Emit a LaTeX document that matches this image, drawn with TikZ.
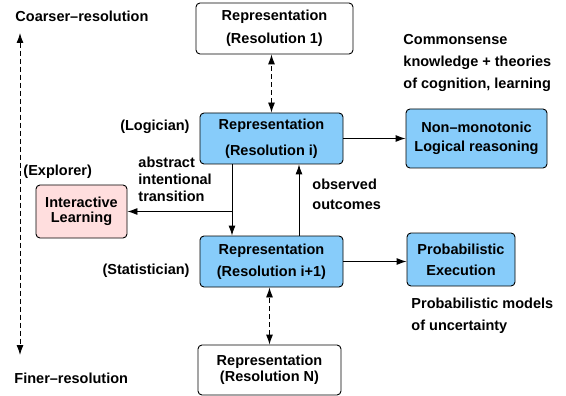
\documentclass[tikz,border=0pt]{standalone}
\usepackage{fontspec}
\setmainfont{Liberation Sans}
\usetikzlibrary{arrows.meta}
\definecolor{skyblue}{RGB}{135,204,250}
\definecolor{lightpink}{RGB}{255,222,222}
\begin{document}
\begin{tikzpicture}[x=1pt,y=-1pt,line width=0.9pt,
    font=\bfseries\fontsize{14.5}{17}\selectfont,
    >={Latex[length=10pt,width=7pt]},
    resbox/.style={rectangle,rounded corners=4pt,draw,align=center,minimum height=51pt,inner sep=0pt},
    activebox/.style={resbox,fill=skyblue},
    note/.style={align=left,inner sep=0pt},
    scaleline/.style={<->,dashed,dash pattern=on 5pt off 3pt}]
    \useasboundingbox (0,0) rectangle (566,396);

    \node[resbox,minimum width=157pt] (res_1) at (274.5,28.5) {Representation\\[6pt](Resolution 1)} ;
    \node[activebox,minimum width=143pt] (res_i) at (271.5,138.5) {Representation\\[9pt](Resolution i)} ;
    \node[activebox,minimum width=143pt] (res_ip) at (271.5,261.5) {Representation\\[5pt](Resolution i+1)} ;
    \node[resbox,minimum width=143pt,minimum height=50pt] (res_N) at (269.5,370) {Representation\\[-1pt](Resolution N)} ;
    \node[activebox,minimum width=141pt,minimum height=59pt] (nonmono) at (476.5,138.5) {Non\textendash monotonic\\[2pt]Logical reasoning} ;
    \node[activebox,minimum width=108pt,minimum height=53pt] (prob_exec) at (461,259.5) {Probabilistic\\[4pt]Execution} ;
    \node[resbox,fill=lightpink,minimum width=91pt,minimum height=53pt] (learn) at (81.5,211.5) {Interactive\\[-2pt]Learning} ;

    \node[note,anchor=west] (coarse_lbl) at (15,16) {Coarser\textendash resolution} ;
    \node[note,anchor=west] (fine_lbl) at (14,378) {Finer\textendash resolution} ;
    \node[note,anchor=east] (logician) at (190,127) {(Logician)} ;
    \node[note,anchor=east] (statistician) at (190,271) {(Statistician)} ;
    \node[note,anchor=west] (explorer) at (23,172) {(Explorer)} ;
    \node[note,anchor=north west] (abstract_lbl) at (138,157) {abstract\\intentional\\transition} ;
    \node[note,anchor=north west] (observed_lbl) at (312,179) {observed\\[3pt]outcomes} ;
    \node[note,anchor=north west] (commonsense) at (403,34) {Commonsense\\[5pt]knowledge + theories\\[5pt]of cognition, learning} ;
    \node[note,anchor=north west] (prob_models) at (411,298) {Probabilistic models\\[5pt]of uncertainty} ;

    % resolution scale on the left
    \coordinate (coarse_end) at (20,33) ;
    \coordinate (fine_end) at (20,355) ;
    \draw[scaleline] (coarse_end) -- (fine_end) ;

    \draw[scaleline] (res_i.north) -- (res_i.north |- res_1.south) ;
    \draw[scaleline] (res_N.north) -- (res_N.north |- res_ip.south) ;

    \draw[->] (res_i) -- (nonmono) ;
    \draw[->] (res_ip.east) -- (res_ip.east -| prob_exec.west) ;

    \coordinate (split) at (232,211.5) ;
    \coordinate (feedback) at (299,200) ;
    \draw[->] (res_i.south -| split) -- (res_ip.north -| split) ;
    \draw[->] (split) -- (learn.east) ;
    \draw[->] (res_ip.north -| feedback) -- (res_i.south -| feedback) ;
\end{tikzpicture}
\end{document}
